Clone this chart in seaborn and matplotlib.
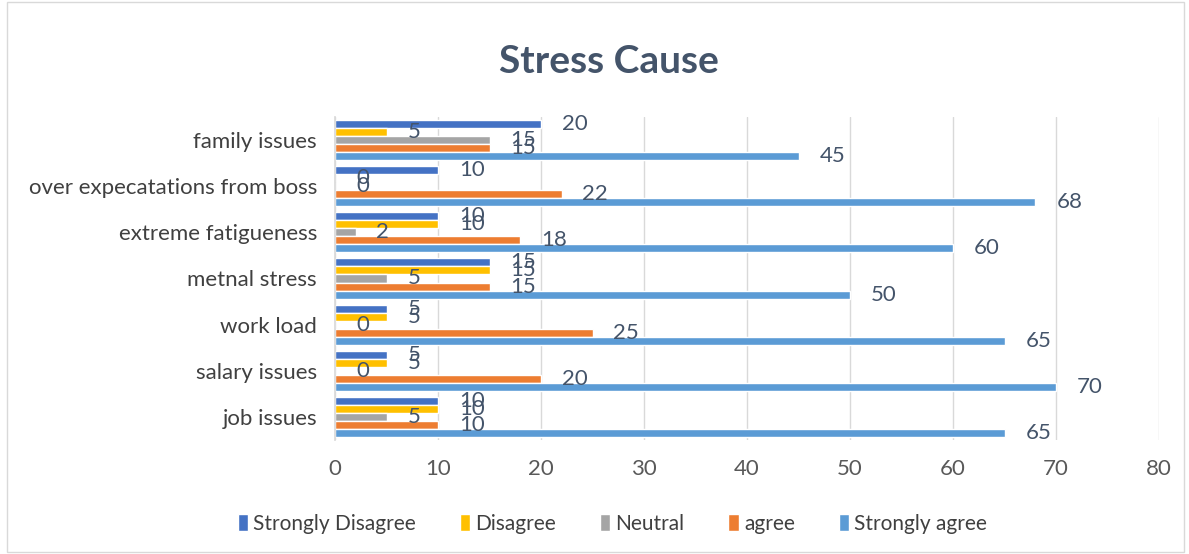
import numpy as np
import pandas as pd
import seaborn as sns
import matplotlib.pyplot as plt
from matplotlib.patches import Rectangle

# categories from top to bottom as drawn
causes = ["family issues", "over expecatations from boss", "extreme fatigueness",
          "metnal stress", "work load", "salary issues", "job issues"]
levels = ["Strongly Disagree", "Disagree", "Neutral", "agree", "Strongly agree"]

strongly_disagree = [20, 10, 10, 15, 5, 5, 10]
disagree = [5, 0, 10, 15, 5, 5, 10]
neutral = [15, 0, 2, 5, 0, 0, 5]
agree = [15, 22, 18, 15, 25, 20, 10]
strongly_agree = [45, 68, 60, 50, 65, 70, 65]

colors = ["#4472C4", "#FFC000", "#A5A5A5", "#ED7D31", "#5B9BD5"]

series = [strongly_disagree, disagree, neutral, agree, strongly_agree]
rows = []
for lvl, vals in zip(levels, series):
    for c, v in zip(causes, vals):
        rows.append({"cause": c, "response": lvl, "count": v})
df = pd.DataFrame(rows)

sns.set_theme(style="white")
plt.rcParams["font.family"] = ["Lato", "DejaVu Sans"]

fig = plt.figure(figsize=(11.89, 5.54), dpi=100)
ax = fig.add_axes([0.2818, 0.2058, 0.6930, 0.5830])

sns.barplot(data=df, y="cause", x="count", hue="response", order=causes,
            hue_order=levels, palette=colors, orient="h", width=0.87,
            saturation=1, ax=ax, legend=True)

for cont in ax.containers:
    ax.bar_label(cont, padding=15, fontsize=16, color="#44546A")

ax.set_xlim(0, 80)
ax.set_xticks(np.arange(0, 81, 10))
ax.grid(axis="x", color="#D9D9D9", linewidth=1)
ax.set_axisbelow(True)
for s in ["top", "right", "bottom"]:
    ax.spines[s].set_visible(False)
ax.spines["left"].set_color("#D9D9D9")
ax.tick_params(axis="x", labelsize=16, labelcolor="#595959", length=0, pad=14)
ax.tick_params(axis="y", labelsize=16, labelcolor="#404040", length=0, pad=13)
ax.set_xlabel("")
ax.set_ylabel("")

fig.suptitle("Stress Cause", x=0.512, y=0.92, fontsize=28, fontweight="bold",
             color="#44546A")

handles, labels = ax.get_legend_handles_labels()
ax.get_legend().remove()
fig.legend(handles, labels, loc="center", bbox_to_anchor=(0.515, 0.055), ncol=5,
           frameon=False, fontsize=15, handlelength=0.5, handleheight=0.9,
           columnspacing=2.1, handletextpad=0.25, labelcolor="#404040")

fig.patches.append(Rectangle((0.006, 0.004), 0.99, 0.992, transform=fig.transFigure,
                             fill=False, edgecolor="#D9D9D9", linewidth=1))

fig.savefig("out.png", dpi=100)
